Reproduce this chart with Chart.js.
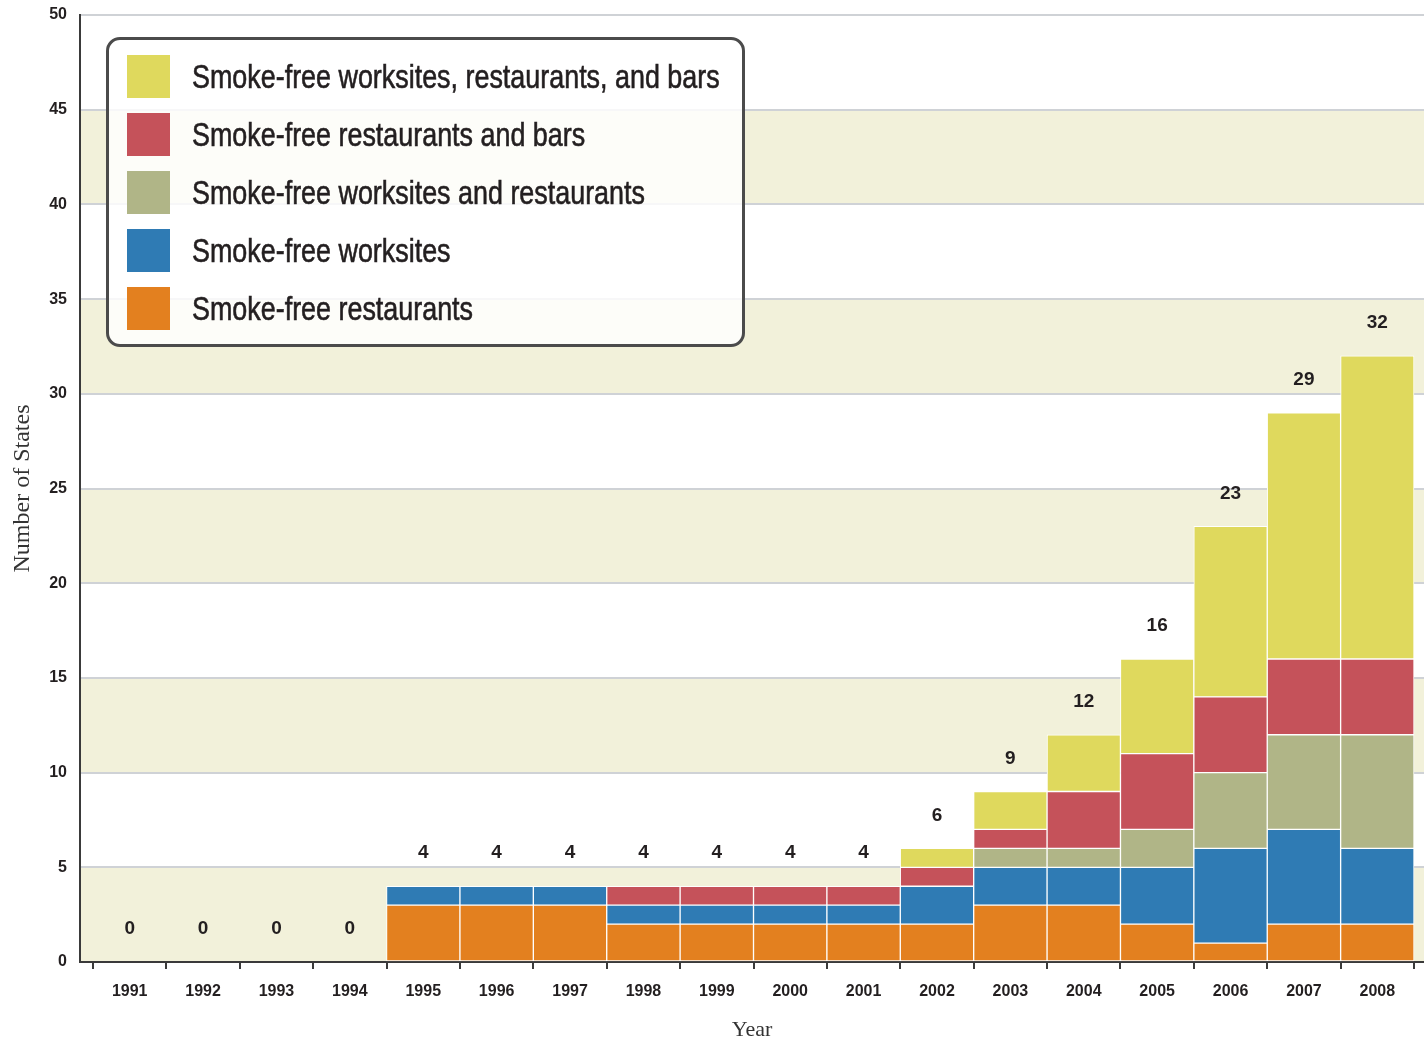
<!DOCTYPE html>
<html>
<head>
<meta charset="utf-8">
<script src="https://cdn.jsdelivr.net/npm/chart.js@4/dist/chart.umd.min.js"></script>
<style>
  body { margin: 0; background: #fff; }
  #wrap { position: relative; width: 1424px; height: 1041px; }
  #legend {
    position: absolute; left: 106px; top: 37px; width: 639px; height: 310px;
    box-sizing: border-box; border: 3px solid #4b4b4b; border-radius: 14px;
    background: rgba(255, 255, 255, 0.82);
    font-family: "Liberation Sans", Arial, sans-serif;
    font-size: 33px; color: #231f20;
  }
  #legend .row { position: absolute; left: 18px; height: 43px; display: flex; align-items: center; white-space: nowrap; }
  #legend .sw { width: 43px; height: 43px; margin-right: 22px; flex: none; }
  #legend .txt { display: inline-block; transform: scaleX(0.815); transform-origin: left center; -webkit-text-stroke: 0.6px #231f20; }
</style>
</head>
<body>
<div id="wrap">
  <canvas id="myChart" width="1424" height="1041"></canvas>
  <div id="legend"></div>
</div>
<script>
const years = [1991, 1992, 1993, 1994, 1995, 1996, 1997, 1998, 1999, 2000, 2001, 2002, 2003, 2004, 2005, 2006, 2007, 2008];
const restaurants =          [0, 0, 0, 0, 3, 3, 3, 2, 2, 2, 2, 2, 3, 3, 2, 1, 2, 2];
const worksites =            [0, 0, 0, 0, 1, 1, 1, 1, 1, 1, 1, 2, 2, 2, 3, 5, 5, 4];
const worksitesRestaurants = [0, 0, 0, 0, 0, 0, 0, 0, 0, 0, 0, 0, 1, 1, 2, 4, 5, 6];
const restaurantsBars =      [0, 0, 0, 0, 0, 0, 0, 1, 1, 1, 1, 1, 1, 3, 4, 4, 4, 4];
const allThree =             [0, 0, 0, 0, 0, 0, 0, 0, 0, 0, 0, 1, 2, 3, 5, 9, 13, 16];

const seriesNames = [
	'Smoke-free restaurants',
	'Smoke-free worksites',
	'Smoke-free worksites and restaurants',
	'Smoke-free restaurants and bars',
	'Smoke-free worksites, restaurants, and bars'
];
const seriesData = [restaurants, worksites, worksitesRestaurants, restaurantsBars, allThree];
const seriesColors = ['#e3801f', '#2f7bb4', '#b0b587', '#c5525a', '#dfd95d'];
const yTicks = [0, 5, 10, 15, 20, 25, 30, 35, 40, 45, 50];

const ink = '#231f20';

// beige bands behind every other 5-unit interval
const bandPlugin = {
	id: 'bands',
	beforeDraw(chart) {
		const { ctx, chartArea, scales } = chart;
		const y = scales.y;
		ctx.save();
		ctx.fillStyle = '#f2f1da';
		for (let i = 0; i < yTicks.length - 1; i += 2) {
			const top = y.getPixelForValue(yTicks[i + 1]);
			const bottom = y.getPixelForValue(yTicks[i]);
			ctx.fillRect(chartArea.left, top, chartArea.right - chartArea.left, bottom - top);
		}
		ctx.restore();
	}
};

// totals above each bar
const totalsPlugin = {
	id: 'totals',
	afterDatasetsDraw(chart) {
		const { ctx, scales } = chart;
		ctx.save();
		ctx.font = 'bold 19px "Liberation Sans", Arial, sans-serif';
		ctx.fillStyle = ink;
		ctx.textAlign = 'center';
		ctx.textBaseline = 'middle';
		years.forEach((yr, i) => {
			let total = 0;
			seriesData.forEach(s => { total += s[i]; });
			const x = scales.x.getPixelForValue(yr);
			const y = scales.y.getPixelForValue(total) - 33;
			ctx.fillText(String(total), x, y);
		});
		ctx.restore();
	}
};

const ctx = document.getElementById('myChart').getContext('2d');
const myChart = new Chart(ctx, {
	type: 'bar',
	data: {
		labels: years,
		datasets: seriesData.map((d, i) => ({
			label: seriesNames[i],
			data: d,
			backgroundColor: seriesColors[i],
			borderColor: '#ffffff',
			borderWidth: 1,
			borderSkipped: false,
			barPercentage: 1,
			categoryPercentage: 1
		}))
	},
	options: {
		responsive: false,
		animation: false,
		devicePixelRatio: 1,
		layout: { padding: { top: 15, left: 0, right: 0, bottom: 0 } },
		plugins: {
			legend: { display: false },
			tooltip: { enabled: false }
		},
		scales: {
			x: {
				type: 'linear',
				stacked: true,
				offset: false,
				min: 1990.323,
				max: 2008.636,
				afterBuildTicks: axis => {
					axis.ticks = years.concat([2009]).map(v => ({ value: v - 0.5 }));
				},
				afterFit: axis => { axis.height = 79; },
				ticks: {
					autoSkip: false,
					maxRotation: 0,
					padding: 0,
					labelOffset: 36.7,
					color: ink,
					font: { family: '"Liberation Sans", Arial, sans-serif', size: 16, weight: 'bold', lineHeight: '46px' },
					callback: v => (years.includes(v + 0.5) ? String(v + 0.5) : '')
				},
				grid: {
					offset: false,
					drawOnChartArea: false,
					drawTicks: true,
					tickLength: 7,
					color: '#3a3a3a',
					lineWidth: 2
				},
				border: { display: true, color: '#3a3a3a', width: 2 },
				title: {
					display: true,
					text: 'Year',
					color: '#333',
					font: { family: '"Liberation Serif", "Times New Roman", serif', size: 22, lineHeight: 1 },
					padding: { top: 0, bottom: 0 }
				}
			},
			y: {
				stacked: true,
				min: 0,
				max: 50,
				afterFit: axis => { axis.width = 80; },
				afterBuildTicks: axis => {
					axis.ticks = yTicks.map(v => ({ value: v }));
				},
				ticks: {
					padding: 0,
					color: ink,
					font: { family: '"Liberation Sans", Arial, sans-serif', size: 16, weight: 'bold' }
				},
				grid: {
					color: '#cfd2d6',
					lineWidth: 2,
					drawTicks: true,
					tickLength: 13,
					tickColor: 'rgba(0,0,0,0)'
				},
				border: { display: true, color: '#3a3a3a', width: 2 },
				title: {
					display: true,
					text: 'Number of States',
					color: '#333',
					font: { family: '"Liberation Serif", "Times New Roman", serif', size: 24 },
					padding: { top: 8, bottom: 0 }
				}
			}
		}
	},
	plugins: [bandPlugin, totalsPlugin]
});

// legend, top entry is the top of the stack
let htmlLegend = '';
for (let i = seriesNames.length - 1, row = 0; i >= 0; i--, row++) {
	htmlLegend += '<div class="row" style="top:' + (15 + row * 58) + 'px"><div class="sw" style="background:' +
		seriesColors[i] + '"></div><span class="txt">' + seriesNames[i] + '</span></div>';
}
document.getElementById('legend').innerHTML = htmlLegend;
</script>
</body>
</html>
